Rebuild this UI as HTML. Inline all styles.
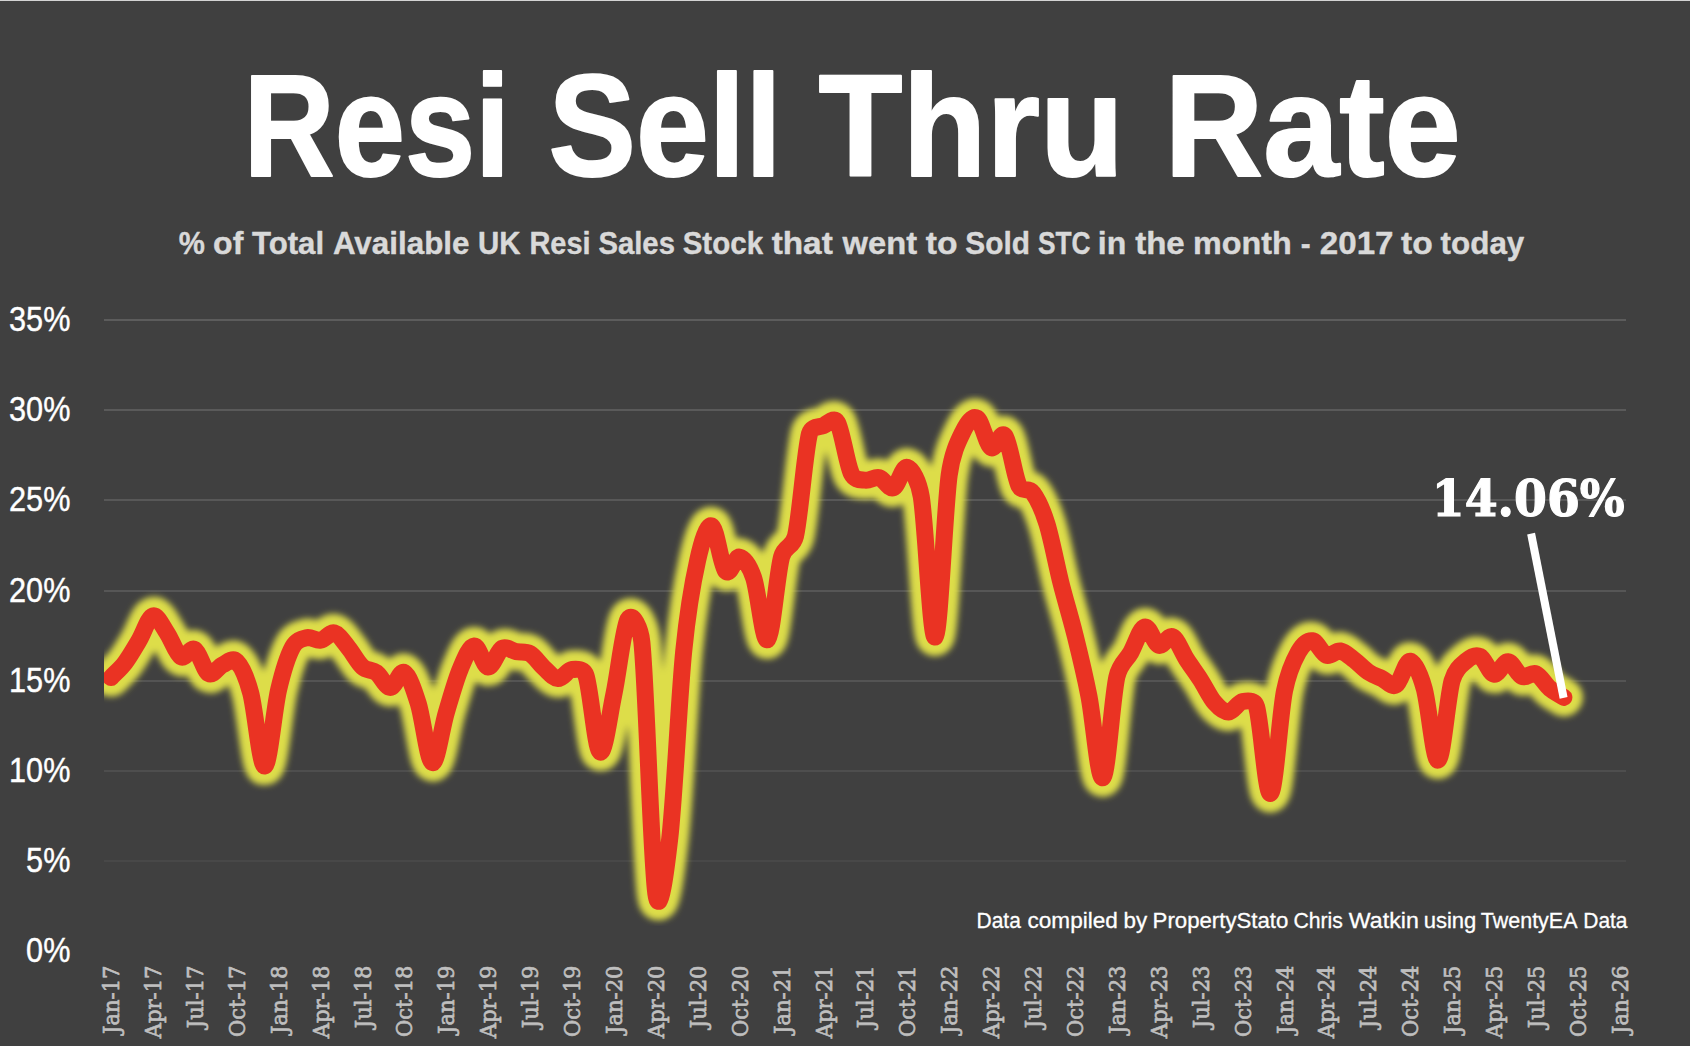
<!DOCTYPE html>
<html lang="en"><head><meta charset="utf-8"><title>Resi Sell Thru Rate</title>
<style>
html,body{margin:0;padding:0;background:#404040;}
body{width:1690px;height:1046px;overflow:hidden;position:relative;}
svg{position:absolute;left:0;top:0;display:block;}
text{font-family:"Liberation Sans",sans-serif;}
.title{font-weight:bold;font-size:140px;fill:#ffffff;stroke:#ffffff;stroke-width:2px;stroke-linejoin:round;}
.sub{font-weight:bold;font-size:31px;fill:#d9d9d9;stroke:#d9d9d9;stroke-width:0.4px;stroke-linejoin:round;}
.yl{font-size:33.5px;fill:#ffffff;stroke:#ffffff;stroke-width:0.4px;}
.xl{font-family:"DejaVu Serif","Liberation Serif",serif;font-size:23px;fill:#bfbfbf;stroke:#bfbfbf;stroke-width:0.7px;}
.val{font-family:"DejaVu Serif","Liberation Serif",serif;font-weight:bold;font-size:50px;fill:#ffffff;stroke:#ffffff;stroke-width:1.2px;stroke-linejoin:miter;}
.credit{font-size:21.9px;fill:#ffffff;stroke:#ffffff;stroke-width:0.3px;}
</style></head>
<body>
<svg width="1690" height="1046" viewBox="0 0 1690 1046">
<defs>
<filter id="glow" x="-5%" y="-5%" width="110%" height="110%" filterUnits="objectBoundingBox"><feGaussianBlur stdDeviation="3.1"/></filter>
<clipPath id="plot"><rect x="104" y="300" width="1523" height="700"/></clipPath>
</defs>
<rect x="0" y="0" width="1690" height="1046" fill="#404040"/>
<rect x="0" y="0" width="1690" height="1" fill="#d4d4d4"/>
<g id="title" aria-label="Resi Sell Thru Rate">
<text class="title" transform="translate(243.59,176.20) scale(0.9016,1.0380)">Resi</text>
<text class="title" transform="translate(548.56,176.20) scale(0.9356,1.0380)">Sell</text>
<text class="title" transform="translate(818.52,176.20) scale(0.9820,1.0380)">Thru</text>
<text class="title" transform="translate(1164.62,176.20) scale(0.9756,1.0380)">Rate</text>
</g>
<g id="subtitle" aria-label="% of Total Available UK Resi Sales Stock that went to Sold STC in the month - 2017 to today">
<text class="sub" transform="translate(178.70,254.20) scale(0.9479,1.0400)">%</text>
<text class="sub" transform="translate(213.04,254.20) scale(1.0349,1.0400)">of</text>
<text class="sub" transform="translate(251.95,254.20) scale(1.0059,1.0400)">Total</text>
<text class="sub" transform="translate(332.88,254.20) scale(1.0123,1.0400)">Available</text>
<text class="sub" transform="translate(477.98,254.20) scale(0.9483,1.0400)">UK</text>
<text class="sub" transform="translate(529.38,254.20) scale(0.9344,1.0400)">Resi</text>
<text class="sub" transform="translate(598.44,254.20) scale(0.9444,1.0400)">Sales</text>
<text class="sub" transform="translate(682.67,254.20) scale(0.9526,1.0400)">Stock</text>
<text class="sub" transform="translate(771.63,254.20) scale(1.0765,1.0400)">that</text>
<text class="sub" transform="translate(842.52,254.20) scale(1.0553,1.0400)">went</text>
<text class="sub" transform="translate(925.72,254.20) scale(1.0847,1.0400)">to</text>
<text class="sub" transform="translate(965.33,254.20) scale(0.9628,1.0400)">Sold</text>
<text class="sub" transform="translate(1037.98,254.20) scale(0.8486,1.0400)">STC</text>
<text class="sub" transform="translate(1097.79,254.20) scale(1.0334,1.0400)">in</text>
<text class="sub" transform="translate(1135.15,254.20) scale(1.0676,1.0400)">the</text>
<text class="sub" transform="translate(1193.11,254.20) scale(1.0427,1.0400)">month</text>
<text class="sub" transform="translate(1300.77,254.20) scale(0.9553,1.0400)">-</text>
<text class="sub" transform="translate(1319.81,254.20) scale(1.0689,1.0400)">2017</text>
<text class="sub" transform="translate(1400.99,254.20) scale(1.0847,1.0400)">to</text>
<text class="sub" transform="translate(1440.60,254.20) scale(1.0128,1.0400)">today</text>
</g>
<g id="grid">
<rect x="104" y="319" width="1522" height="2" fill="rgb(92,92,92)"/>
<rect x="104" y="409" width="1522" height="2" fill="rgb(90,90,90)"/>
<rect x="104" y="499" width="1522" height="2" fill="rgb(88,88,88)"/>
<rect x="104" y="590" width="1522" height="2" fill="rgb(86,86,86)"/>
<rect x="104" y="680" width="1522" height="2" fill="rgb(84,84,84)"/>
<rect x="104" y="770" width="1522" height="2" fill="rgb(78,78,78)"/>
<rect x="104" y="860" width="1522" height="2" fill="rgb(72,72,72)"/>
</g>
<g id="ylabels">
<text class="yl" transform="translate(70.40,330.90) scale(0.9150,1.0400)" text-anchor="end">35%</text>
<text class="yl" transform="translate(70.40,420.90) scale(0.9150,1.0400)" text-anchor="end">30%</text>
<text class="yl" transform="translate(70.40,510.90) scale(0.9150,1.0400)" text-anchor="end">25%</text>
<text class="yl" transform="translate(70.40,601.90) scale(0.9150,1.0400)" text-anchor="end">20%</text>
<text class="yl" transform="translate(70.40,691.90) scale(0.9150,1.0400)" text-anchor="end">15%</text>
<text class="yl" transform="translate(70.40,781.90) scale(0.9150,1.0400)" text-anchor="end">10%</text>
<text class="yl" transform="translate(70.40,871.90) scale(0.9150,1.0400)" text-anchor="end">5%</text>
<text class="yl" transform="translate(70.40,961.90) scale(0.9150,1.0400)" text-anchor="end">0%</text>
</g>
<g clip-path="url(#plot)">
<path d="M111.00,677.60 C115.66,672.70 120.31,669.05 124.97,662.90 C129.63,656.75 134.28,648.52 138.94,640.70 C143.60,632.88 148.25,617.33 152.91,616.00 C157.57,614.67 162.22,625.90 166.88,632.70 C171.54,639.50 176.19,653.98 180.85,656.80 C185.51,659.62 190.16,646.80 194.82,649.60 C199.48,652.40 204.13,671.08 208.79,673.60 C213.45,676.12 218.10,666.72 222.76,664.70 C227.42,662.68 232.07,656.78 236.73,661.50 C241.39,666.22 246.25,676.36 250.70,693.00 C255.36,710.42 260.01,766.57 264.67,766.00 C269.33,765.43 273.98,709.43 278.64,689.60 C283.30,669.77 287.95,655.65 292.61,647.00 C296.59,639.61 301.92,638.83 306.58,637.70 C311.24,636.57 315.89,640.98 320.55,640.20 C325.21,639.42 329.86,631.73 334.52,633.00 C339.18,634.27 343.83,642.17 348.49,647.80 C353.15,653.43 357.80,662.65 362.46,666.80 C367.12,670.95 371.77,669.25 376.43,672.70 C381.09,676.15 385.74,687.50 390.40,687.50 C395.06,687.50 399.71,669.98 404.37,672.70 C409.03,675.42 413.68,688.83 418.34,703.80 C423.00,718.77 427.65,761.02 432.31,762.50 C436.97,763.98 441.62,728.27 446.28,712.70 C450.94,697.13 455.59,680.22 460.25,669.10 C464.91,657.98 469.56,646.35 474.22,646.00 C478.88,645.65 483.53,666.62 488.19,667.00 C492.85,667.38 497.50,650.85 502.16,648.30 C506.82,645.75 511.47,650.80 516.13,651.70 C520.79,652.60 525.44,650.98 530.10,653.70 C534.76,656.42 539.41,663.85 544.07,668.00 C548.73,672.15 553.38,678.35 558.04,678.60 C562.70,678.85 567.35,670.03 572.01,669.50 C576.67,668.97 583.54,668.22 585.98,675.40 C590.64,689.12 595.29,748.70 599.95,751.80 C604.61,754.90 609.26,716.05 613.92,694.00 C618.58,671.95 623.23,628.17 627.89,619.50 C632.55,610.83 640.52,628.83 641.86,642.00 C646.52,687.67 651.17,860.83 655.83,893.50 C659.87,921.83 666.53,866.43 669.80,838.00 C674.46,797.53 679.11,697.03 683.77,650.70 C688.36,605.05 693.08,580.78 697.74,560.00 C701.76,542.07 707.05,524.13 711.71,526.00 C716.37,527.87 721.02,566.00 725.68,571.20 C730.34,576.40 734.99,556.10 739.65,557.20 C744.31,558.30 749.63,566.01 753.62,577.80 C758.28,591.55 762.93,643.17 767.59,639.70 C772.25,636.23 776.90,574.28 781.56,557.00 C784.84,544.82 792.74,548.30 795.53,536.00 C800.19,515.45 804.84,452.10 809.50,433.70 C811.48,425.87 818.81,427.48 823.47,425.60 C828.13,423.72 833.84,416.21 837.44,422.40 C842.10,430.40 846.75,463.97 851.41,473.60 C854.77,480.56 860.72,479.53 865.38,480.20 C870.04,480.87 874.69,476.33 879.35,477.60 C884.01,478.87 888.66,489.50 893.32,487.80 C897.98,486.10 902.63,465.92 907.29,467.40 C911.95,468.88 918.62,480.69 921.26,496.70 C925.92,524.97 930.57,640.62 935.23,637.00 C939.89,633.38 944.54,509.30 949.20,475.00 C952.29,452.22 958.51,440.67 963.17,431.20 C967.38,422.64 972.48,415.47 977.14,418.20 C981.80,420.93 986.45,444.63 991.11,447.60 C995.77,450.57 1000.42,429.60 1005.08,436.00 C1009.74,442.40 1014.39,476.50 1019.05,486.00 C1022.49,493.02 1028.39,486.71 1033.02,493.00 C1037.68,499.33 1042.33,509.00 1046.99,524.00 C1051.65,539.00 1056.30,564.55 1060.96,583.00 C1065.62,601.45 1070.27,615.87 1074.93,634.70 C1079.59,653.53 1084.24,672.17 1088.90,696.00 C1093.56,719.83 1098.21,780.87 1102.87,777.70 C1107.53,774.53 1112.18,697.87 1116.84,677.00 C1119.91,663.24 1126.15,660.83 1130.81,652.50 C1135.47,644.17 1140.12,628.22 1144.78,627.00 C1149.44,625.78 1154.09,643.55 1158.75,645.20 C1163.41,646.85 1168.06,634.52 1172.72,636.90 C1177.38,639.28 1182.03,652.32 1186.69,659.50 C1191.35,666.68 1196.00,672.80 1200.66,680.00 C1205.32,687.20 1209.97,697.37 1214.63,702.70 C1219.29,708.03 1223.94,712.20 1228.60,712.00 C1233.26,711.80 1237.91,702.40 1242.57,701.50 C1247.23,700.60 1254.38,699.49 1256.54,706.60 C1261.20,721.92 1265.85,796.00 1270.51,793.40 C1275.17,790.80 1279.82,714.57 1284.48,691.00 C1288.50,670.68 1293.79,660.37 1298.45,652.00 C1302.80,644.18 1307.76,640.27 1312.42,640.80 C1317.08,641.33 1321.73,653.50 1326.39,655.20 C1331.05,656.90 1335.70,650.20 1340.36,651.00 C1345.02,651.80 1349.67,656.50 1354.33,660.00 C1358.99,663.50 1363.64,668.88 1368.30,672.00 C1372.96,675.12 1377.61,676.55 1382.27,678.70 C1386.93,680.85 1391.58,687.80 1396.24,684.90 C1400.90,682.00 1405.55,660.70 1410.21,661.30 C1414.87,661.90 1420.02,673.79 1424.18,688.50 C1428.84,704.95 1433.49,761.33 1438.15,760.00 C1442.81,758.67 1447.46,697.00 1452.12,680.50 C1455.38,668.96 1461.43,665.00 1466.09,661.00 C1470.75,657.00 1475.40,654.30 1480.06,656.50 C1484.72,658.70 1489.37,673.32 1494.03,674.20 C1498.69,675.08 1503.34,661.42 1508.00,661.80 C1512.66,662.18 1517.31,674.52 1521.97,676.50 C1526.63,678.48 1531.28,671.70 1535.94,673.70 C1540.60,675.70 1545.25,684.55 1549.91,688.50 C1554.57,692.45 1559.22,694.43 1563.88,697.40" fill="none" stroke="#dddd48" stroke-width="38" stroke-linecap="round" stroke-linejoin="round" filter="url(#glow)"/>
<path d="M111.00,677.60 C115.66,672.70 120.31,669.05 124.97,662.90 C129.63,656.75 134.28,648.52 138.94,640.70 C143.60,632.88 148.25,617.33 152.91,616.00 C157.57,614.67 162.22,625.90 166.88,632.70 C171.54,639.50 176.19,653.98 180.85,656.80 C185.51,659.62 190.16,646.80 194.82,649.60 C199.48,652.40 204.13,671.08 208.79,673.60 C213.45,676.12 218.10,666.72 222.76,664.70 C227.42,662.68 232.07,656.78 236.73,661.50 C241.39,666.22 246.25,676.36 250.70,693.00 C255.36,710.42 260.01,766.57 264.67,766.00 C269.33,765.43 273.98,709.43 278.64,689.60 C283.30,669.77 287.95,655.65 292.61,647.00 C296.59,639.61 301.92,638.83 306.58,637.70 C311.24,636.57 315.89,640.98 320.55,640.20 C325.21,639.42 329.86,631.73 334.52,633.00 C339.18,634.27 343.83,642.17 348.49,647.80 C353.15,653.43 357.80,662.65 362.46,666.80 C367.12,670.95 371.77,669.25 376.43,672.70 C381.09,676.15 385.74,687.50 390.40,687.50 C395.06,687.50 399.71,669.98 404.37,672.70 C409.03,675.42 413.68,688.83 418.34,703.80 C423.00,718.77 427.65,761.02 432.31,762.50 C436.97,763.98 441.62,728.27 446.28,712.70 C450.94,697.13 455.59,680.22 460.25,669.10 C464.91,657.98 469.56,646.35 474.22,646.00 C478.88,645.65 483.53,666.62 488.19,667.00 C492.85,667.38 497.50,650.85 502.16,648.30 C506.82,645.75 511.47,650.80 516.13,651.70 C520.79,652.60 525.44,650.98 530.10,653.70 C534.76,656.42 539.41,663.85 544.07,668.00 C548.73,672.15 553.38,678.35 558.04,678.60 C562.70,678.85 567.35,670.03 572.01,669.50 C576.67,668.97 583.54,668.22 585.98,675.40 C590.64,689.12 595.29,748.70 599.95,751.80 C604.61,754.90 609.26,716.05 613.92,694.00 C618.58,671.95 623.23,628.17 627.89,619.50 C632.55,610.83 640.52,628.83 641.86,642.00 C646.52,687.67 651.17,860.83 655.83,893.50 C659.87,921.83 666.53,866.43 669.80,838.00 C674.46,797.53 679.11,697.03 683.77,650.70 C688.36,605.05 693.08,580.78 697.74,560.00 C701.76,542.07 707.05,524.13 711.71,526.00 C716.37,527.87 721.02,566.00 725.68,571.20 C730.34,576.40 734.99,556.10 739.65,557.20 C744.31,558.30 749.63,566.01 753.62,577.80 C758.28,591.55 762.93,643.17 767.59,639.70 C772.25,636.23 776.90,574.28 781.56,557.00 C784.84,544.82 792.74,548.30 795.53,536.00 C800.19,515.45 804.84,452.10 809.50,433.70 C811.48,425.87 818.81,427.48 823.47,425.60 C828.13,423.72 833.84,416.21 837.44,422.40 C842.10,430.40 846.75,463.97 851.41,473.60 C854.77,480.56 860.72,479.53 865.38,480.20 C870.04,480.87 874.69,476.33 879.35,477.60 C884.01,478.87 888.66,489.50 893.32,487.80 C897.98,486.10 902.63,465.92 907.29,467.40 C911.95,468.88 918.62,480.69 921.26,496.70 C925.92,524.97 930.57,640.62 935.23,637.00 C939.89,633.38 944.54,509.30 949.20,475.00 C952.29,452.22 958.51,440.67 963.17,431.20 C967.38,422.64 972.48,415.47 977.14,418.20 C981.80,420.93 986.45,444.63 991.11,447.60 C995.77,450.57 1000.42,429.60 1005.08,436.00 C1009.74,442.40 1014.39,476.50 1019.05,486.00 C1022.49,493.02 1028.39,486.71 1033.02,493.00 C1037.68,499.33 1042.33,509.00 1046.99,524.00 C1051.65,539.00 1056.30,564.55 1060.96,583.00 C1065.62,601.45 1070.27,615.87 1074.93,634.70 C1079.59,653.53 1084.24,672.17 1088.90,696.00 C1093.56,719.83 1098.21,780.87 1102.87,777.70 C1107.53,774.53 1112.18,697.87 1116.84,677.00 C1119.91,663.24 1126.15,660.83 1130.81,652.50 C1135.47,644.17 1140.12,628.22 1144.78,627.00 C1149.44,625.78 1154.09,643.55 1158.75,645.20 C1163.41,646.85 1168.06,634.52 1172.72,636.90 C1177.38,639.28 1182.03,652.32 1186.69,659.50 C1191.35,666.68 1196.00,672.80 1200.66,680.00 C1205.32,687.20 1209.97,697.37 1214.63,702.70 C1219.29,708.03 1223.94,712.20 1228.60,712.00 C1233.26,711.80 1237.91,702.40 1242.57,701.50 C1247.23,700.60 1254.38,699.49 1256.54,706.60 C1261.20,721.92 1265.85,796.00 1270.51,793.40 C1275.17,790.80 1279.82,714.57 1284.48,691.00 C1288.50,670.68 1293.79,660.37 1298.45,652.00 C1302.80,644.18 1307.76,640.27 1312.42,640.80 C1317.08,641.33 1321.73,653.50 1326.39,655.20 C1331.05,656.90 1335.70,650.20 1340.36,651.00 C1345.02,651.80 1349.67,656.50 1354.33,660.00 C1358.99,663.50 1363.64,668.88 1368.30,672.00 C1372.96,675.12 1377.61,676.55 1382.27,678.70 C1386.93,680.85 1391.58,687.80 1396.24,684.90 C1400.90,682.00 1405.55,660.70 1410.21,661.30 C1414.87,661.90 1420.02,673.79 1424.18,688.50 C1428.84,704.95 1433.49,761.33 1438.15,760.00 C1442.81,758.67 1447.46,697.00 1452.12,680.50 C1455.38,668.96 1461.43,665.00 1466.09,661.00 C1470.75,657.00 1475.40,654.30 1480.06,656.50 C1484.72,658.70 1489.37,673.32 1494.03,674.20 C1498.69,675.08 1503.34,661.42 1508.00,661.80 C1512.66,662.18 1517.31,674.52 1521.97,676.50 C1526.63,678.48 1531.28,671.70 1535.94,673.70 C1540.60,675.70 1545.25,684.55 1549.91,688.50 C1554.57,692.45 1559.22,694.43 1563.88,697.40" fill="none" stroke="#ea3323" stroke-width="17" stroke-linecap="round" stroke-linejoin="round"/>
</g>
<line x1="1531.1" y1="533.6" x2="1563.6" y2="697.9" stroke="#ffffff" stroke-width="8"/>
<text class="val" transform="translate(1431.80,516.20) scale(0.9454,1.0270)">14.06%</text>
<g id="credit" aria-label="Data compiled by PropertyStato Chris Watkin using TwentyEA Data">
<text class="credit" transform="translate(976.54,928.00) scale(0.9571,1.0100)">Data</text>
<text class="credit" transform="translate(1027.55,928.00) scale(1.0293,1.0100)">compiled</text>
<text class="credit" transform="translate(1123.58,928.00) scale(1.0214,1.0100)">by</text>
<text class="credit" transform="translate(1152.57,928.00) scale(1.0148,1.0100)">PropertyStato</text>
<text class="credit" transform="translate(1293.38,928.00) scale(0.9697,1.0100)">Chris</text>
<text class="credit" transform="translate(1348.82,928.00) scale(1.0587,1.0100)">Watkin</text>
<text class="credit" transform="translate(1423.63,928.00) scale(1.0061,1.0100)">using</text>
<text class="credit" transform="translate(1480.86,928.00) scale(0.9803,1.0100)">TwentyEA</text>
<text class="credit" transform="translate(1583.25,928.00) scale(0.9571,1.0100)">Data</text>
</g>
<g id="xlabels">
<text class="xl" transform="translate(119.10,965.50) rotate(-90) scale(0.9170,1.0000)" text-anchor="end">Jan-17</text>
<text class="xl" transform="translate(161.01,965.50) rotate(-90) scale(0.9170,1.0000)" text-anchor="end">Apr-17</text>
<text class="xl" transform="translate(202.92,965.50) rotate(-90) scale(0.9170,1.0000)" text-anchor="end">Jul-17</text>
<text class="xl" transform="translate(244.83,965.50) rotate(-90) scale(0.9170,1.0000)" text-anchor="end">Oct-17</text>
<text class="xl" transform="translate(286.74,965.50) rotate(-90) scale(0.9170,1.0000)" text-anchor="end">Jan-18</text>
<text class="xl" transform="translate(328.65,965.50) rotate(-90) scale(0.9170,1.0000)" text-anchor="end">Apr-18</text>
<text class="xl" transform="translate(370.56,965.50) rotate(-90) scale(0.9170,1.0000)" text-anchor="end">Jul-18</text>
<text class="xl" transform="translate(412.47,965.50) rotate(-90) scale(0.9170,1.0000)" text-anchor="end">Oct-18</text>
<text class="xl" transform="translate(454.38,965.50) rotate(-90) scale(0.9170,1.0000)" text-anchor="end">Jan-19</text>
<text class="xl" transform="translate(496.29,965.50) rotate(-90) scale(0.9170,1.0000)" text-anchor="end">Apr-19</text>
<text class="xl" transform="translate(538.20,965.50) rotate(-90) scale(0.9170,1.0000)" text-anchor="end">Jul-19</text>
<text class="xl" transform="translate(580.11,965.50) rotate(-90) scale(0.9170,1.0000)" text-anchor="end">Oct-19</text>
<text class="xl" transform="translate(622.02,965.50) rotate(-90) scale(0.9170,1.0000)" text-anchor="end">Jan-20</text>
<text class="xl" transform="translate(663.93,965.50) rotate(-90) scale(0.9170,1.0000)" text-anchor="end">Apr-20</text>
<text class="xl" transform="translate(705.84,965.50) rotate(-90) scale(0.9170,1.0000)" text-anchor="end">Jul-20</text>
<text class="xl" transform="translate(747.75,965.50) rotate(-90) scale(0.9170,1.0000)" text-anchor="end">Oct-20</text>
<text class="xl" transform="translate(789.66,965.50) rotate(-90) scale(0.9170,1.0000)" text-anchor="end">Jan-21</text>
<text class="xl" transform="translate(831.57,965.50) rotate(-90) scale(0.9170,1.0000)" text-anchor="end">Apr-21</text>
<text class="xl" transform="translate(873.48,965.50) rotate(-90) scale(0.9170,1.0000)" text-anchor="end">Jul-21</text>
<text class="xl" transform="translate(915.39,965.50) rotate(-90) scale(0.9170,1.0000)" text-anchor="end">Oct-21</text>
<text class="xl" transform="translate(957.30,965.50) rotate(-90) scale(0.9170,1.0000)" text-anchor="end">Jan-22</text>
<text class="xl" transform="translate(999.21,965.50) rotate(-90) scale(0.9170,1.0000)" text-anchor="end">Apr-22</text>
<text class="xl" transform="translate(1041.12,965.50) rotate(-90) scale(0.9170,1.0000)" text-anchor="end">Jul-22</text>
<text class="xl" transform="translate(1083.03,965.50) rotate(-90) scale(0.9170,1.0000)" text-anchor="end">Oct-22</text>
<text class="xl" transform="translate(1124.94,965.50) rotate(-90) scale(0.9170,1.0000)" text-anchor="end">Jan-23</text>
<text class="xl" transform="translate(1166.85,965.50) rotate(-90) scale(0.9170,1.0000)" text-anchor="end">Apr-23</text>
<text class="xl" transform="translate(1208.76,965.50) rotate(-90) scale(0.9170,1.0000)" text-anchor="end">Jul-23</text>
<text class="xl" transform="translate(1250.67,965.50) rotate(-90) scale(0.9170,1.0000)" text-anchor="end">Oct-23</text>
<text class="xl" transform="translate(1292.58,965.50) rotate(-90) scale(0.9170,1.0000)" text-anchor="end">Jan-24</text>
<text class="xl" transform="translate(1334.49,965.50) rotate(-90) scale(0.9170,1.0000)" text-anchor="end">Apr-24</text>
<text class="xl" transform="translate(1376.40,965.50) rotate(-90) scale(0.9170,1.0000)" text-anchor="end">Jul-24</text>
<text class="xl" transform="translate(1418.31,965.50) rotate(-90) scale(0.9170,1.0000)" text-anchor="end">Oct-24</text>
<text class="xl" transform="translate(1460.22,965.50) rotate(-90) scale(0.9170,1.0000)" text-anchor="end">Jan-25</text>
<text class="xl" transform="translate(1502.13,965.50) rotate(-90) scale(0.9170,1.0000)" text-anchor="end">Apr-25</text>
<text class="xl" transform="translate(1544.04,965.50) rotate(-90) scale(0.9170,1.0000)" text-anchor="end">Jul-25</text>
<text class="xl" transform="translate(1585.95,965.50) rotate(-90) scale(0.9170,1.0000)" text-anchor="end">Oct-25</text>
<text class="xl" transform="translate(1627.86,965.50) rotate(-90) scale(0.9170,1.0000)" text-anchor="end">Jan-26</text>
</g>
</svg>
</body></html>
